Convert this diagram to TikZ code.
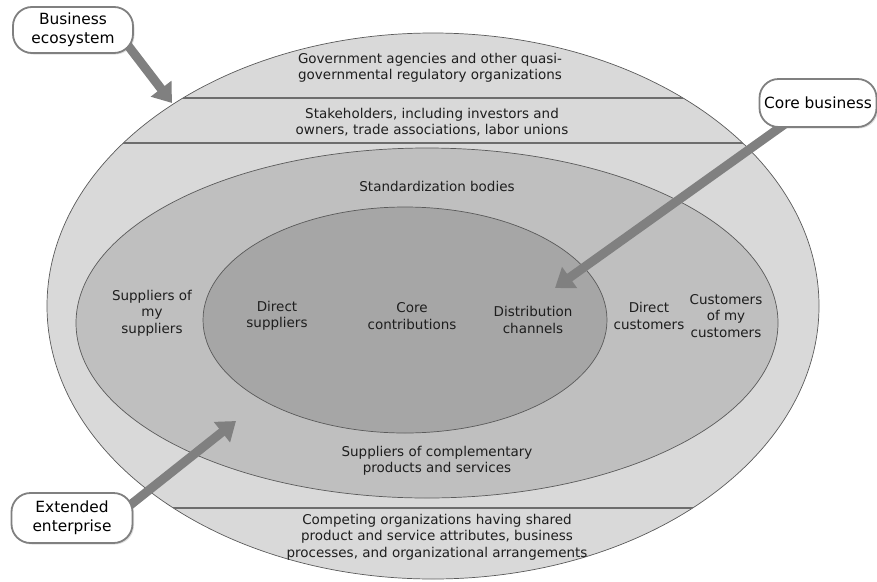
\documentclass[tikz,border=0pt]{standalone}
\usepackage{fontspec}
\setmainfont{DejaVu Sans}
\usetikzlibrary{arrows.meta,shadows}

\definecolor{ringout}{HTML}{D9D9D9}
\definecolor{ringmid}{HTML}{BFBFBF}
\definecolor{ringin}{HTML}{A6A6A6}
\definecolor{ringedge}{HTML}{5A5A5A}
\definecolor{pointergray}{HTML}{808080}
\definecolor{inktext}{HTML}{1E1E1E}

\pgfdeclarelayer{rings}
\pgfdeclarelayer{pointers}
\pgfsetlayers{rings,pointers,main}

\begin{document}
\begin{tikzpicture}[x=1pt,y=-1pt,
  ring/.style={draw=ringedge, line width=0.7pt},
  chord/.style={draw=pointergray!85!black, line width=1.2pt},
  lbl/.style={align=center, inner sep=0pt, text=inktext,
    font=\fontsize{13.5}{16.5}\selectfont},
  tagbox/.style={draw=pointergray, line width=1.8pt, fill=white,
    rounded corners=19pt, align=center, inner sep=0pt, text=black,
    font=\fontsize{15.4}{19}\selectfont,
    drop shadow={shadow xshift=1.5pt, shadow yshift=-1.5pt, opacity=0.25}},
  pointer arrow/.style={draw=pointergray, line width=9pt,
    -{Triangle[width=25pt,length=18pt]}}
]
\useasboundingbox (0,0) rectangle (877,581);

% nested rings of the ecosystem
\begin{pgfonlayer}{rings}
  \path[ring, fill=ringout] (433,306) ellipse [x radius=386, y radius=273];
  \begin{scope}
    \clip (433,306) ellipse [x radius=386, y radius=273];
    \draw[chord] (0,98) -- (877,98);
    \draw[chord] (0,143) -- (877,143);
    \draw[chord] (0,508) -- (877,508);
  \end{scope}
  \path[ring, fill=ringmid] (427,323) ellipse [x radius=351, y radius=175];
  \path[ring, fill=ringin] (405,320) ellipse [x radius=202, y radius=113];
\end{pgfonlayer}

% ring labels
\node[lbl] (gov) at (430,68) {Government agencies and other quasi-\\governmental regulatory organizations};
\node[lbl] (stake) at (432,122) {Stakeholders, including investors and\\owners, trade associations, labor unions};
\node[lbl] (std) at (437,186) {Standardization bodies};
\node[lbl] (supsup) at (152,313) {Suppliers of\\my\\suppliers};
\node[lbl] (dirsup) at (277,316) {Direct\\suppliers};
\node[lbl] (corec) at (412,316) {Core\\contributions};
\node[lbl] (distr) at (533,320) {Distribution\\channels};
\node[lbl] (dircus) at (649,316) {Direct\\customers};
\node[lbl] (cuscus) at (726,316) {Customers\\of my\\customers};
\node[lbl] (compl) at (437,461) {Suppliers of complementary\\products and services};
\node[lbl] (compet) at (437,537) {Competing organizations having shared\\product and service attributes, business\\processes, and organizational arrangements};

% callout boxes
\node[tagbox, minimum width=120pt, minimum height=46pt] (eco) at (73,30) {Business\\ecosystem};
\node[tagbox, minimum width=117pt, minimum height=48pt] (core) at (818,103) {Core business};
\node[tagbox, minimum width=121pt, minimum height=50pt] (ext) at (72,518) {Extended\\enterprise};

% pointer tips
\coordinate (eco tip) at (172,103);
\coordinate (core tip) at (555,288);
\coordinate (ext tip) at (236,421);

\begin{pgfonlayer}{pointers}
  \draw[pointer arrow] ([shift={(-11,-15)}]eco.south east) -- (eco tip);
  \draw[pointer arrow] ([shift={(-26,-9)}]core.south) -- (core tip);
  \draw[pointer arrow] ([shift={(-12,-6)}]ext.east) -- (ext tip);
\end{pgfonlayer}
\end{tikzpicture}
\end{document}
